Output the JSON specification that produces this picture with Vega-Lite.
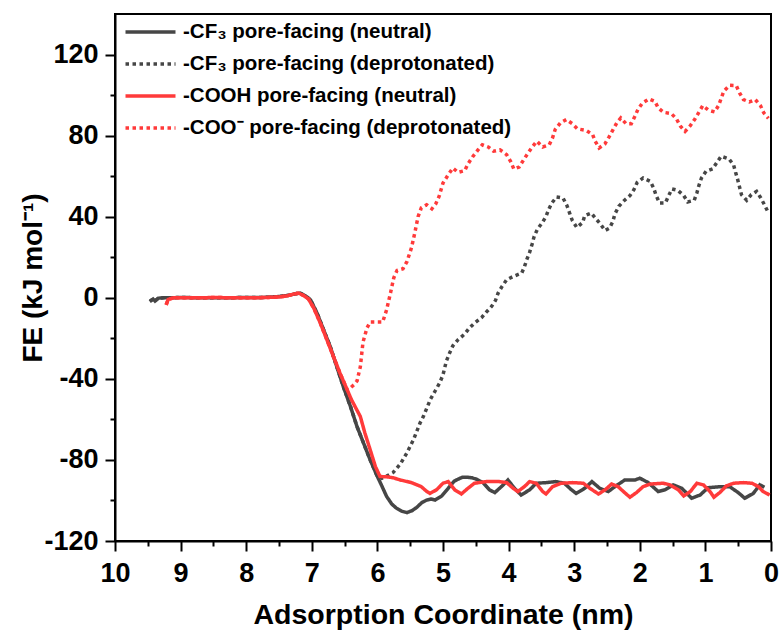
{
"$schema":"https://vega.github.io/schema/vega-lite/v6.json",
"width":656,"height":527,
"autosize":{"type":"none"},
"padding":{"left":115,"top":14,"right":9,"bottom":91},
"background":"white",
"config":{"view":{"stroke":"black","strokeWidth":2},"font":"Liberation Sans"},
"data":{"values":[
{"s":"A","x":9.47,"y":-1.8},{"s":"A","x":9.42,"y":-0.6},{"s":"A","x":9.39,"y":-1.6},{"s":"A","x":9.34,"y":-0.2},{"s":"A","x":9.25,"y":0},{"s":"A","x":9.0,"y":0.1},{"s":"A","x":8.5,"y":0},{"s":"A","x":8.0,"y":0.1},{"s":"A","x":7.7,"y":0.2},{"s":"A","x":7.5,"y":0.6},{"s":"A","x":7.35,"y":1.2},{"s":"A","x":7.25,"y":2.0},{"s":"A","x":7.18,"y":2.3},{"s":"A","x":7.1,"y":1.0},{"s":"A","x":7.02,"y":-1},{"s":"A","x":6.92,"y":-7.6},{"s":"A","x":6.82,"y":-15.8},{"s":"A","x":6.72,"y":-24},{"s":"A","x":6.62,"y":-33.9},{"s":"A","x":6.52,"y":-43.8},{"s":"A","x":6.41,"y":-53.7},{"s":"A","x":6.31,"y":-63.6},{"s":"A","x":6.21,"y":-71.8},{"s":"A","x":6.11,"y":-80},{"s":"A","x":6.01,"y":-87.5},{"s":"A","x":5.93,"y":-93},{"s":"A","x":5.86,"y":-98},{"s":"A","x":5.78,"y":-101.8},{"s":"A","x":5.71,"y":-103.8},{"s":"A","x":5.63,"y":-105.3},{"s":"A","x":5.55,"y":-106},{"s":"A","x":5.47,"y":-105},{"s":"A","x":5.40,"y":-103.4},{"s":"A","x":5.32,"y":-101},{"s":"A","x":5.25,"y":-99.8},{"s":"A","x":5.18,"y":-99.3},{"s":"A","x":5.12,"y":-99.8},{"s":"A","x":5.02,"y":-97.8},{"s":"A","x":4.96,"y":-95.5},{"s":"A","x":4.90,"y":-93.2},{"s":"A","x":4.83,"y":-90.5},{"s":"A","x":4.77,"y":-89.5},{"s":"A","x":4.70,"y":-88.5},{"s":"A","x":4.64,"y":-88.5},{"s":"A","x":4.56,"y":-88.8},{"s":"A","x":4.49,"y":-89.5},{"s":"A","x":4.39,"y":-91.2},{"s":"A","x":4.29,"y":-94.8},{"s":"A","x":4.21,"y":-96.1},{"s":"A","x":4.11,"y":-93.2},{"s":"A","x":4.01,"y":-89.9},{"s":"A","x":3.91,"y":-94},{"s":"A","x":3.81,"y":-97.3},{"s":"A","x":3.68,"y":-94.8},{"s":"A","x":3.58,"y":-91.5},{"s":"A","x":3.43,"y":-91.2},{"s":"A","x":3.28,"y":-90.7},{"s":"A","x":3.15,"y":-91.5},{"s":"A","x":3.05,"y":-94.5},{"s":"A","x":2.97,"y":-96.5},{"s":"A","x":2.84,"y":-94},{"s":"A","x":2.73,"y":-90.7},{"s":"A","x":2.61,"y":-94},{"s":"A","x":2.48,"y":-95.6},{"s":"A","x":2.38,"y":-93.2},{"s":"A","x":2.23,"y":-89.9},{"s":"A","x":2.07,"y":-89.9},{"s":"A","x":2.0,"y":-89},{"s":"A","x":1.87,"y":-91.2},{"s":"A","x":1.72,"y":-95.6},{"s":"A","x":1.62,"y":-94.8},{"s":"A","x":1.49,"y":-92.3},{"s":"A","x":1.36,"y":-94},{"s":"A","x":1.21,"y":-98.9},{"s":"A","x":1.08,"y":-97.3},{"s":"A","x":0.96,"y":-93.7},{"s":"A","x":0.78,"y":-93.2},{"s":"A","x":0.63,"y":-93.2},{"s":"A","x":0.50,"y":-96.1},{"s":"A","x":0.40,"y":-98.9},{"s":"A","x":0.27,"y":-96.5},{"s":"A","x":0.17,"y":-92.3},{"s":"A","x":0.1,"y":-93.5},
{"s":"B","x":9.47,"y":-1.8},{"s":"B","x":9.42,"y":-0.6},{"s":"B","x":9.39,"y":-1.6},{"s":"B","x":9.34,"y":-0.2},{"s":"B","x":9.25,"y":0},{"s":"B","x":9.0,"y":0.1},{"s":"B","x":8.5,"y":0},{"s":"B","x":8.0,"y":0.1},{"s":"B","x":7.7,"y":0.2},{"s":"B","x":7.5,"y":0.6},{"s":"B","x":7.35,"y":1.2},{"s":"B","x":7.25,"y":2.0},{"s":"B","x":7.18,"y":2.3},{"s":"B","x":7.1,"y":1.0},{"s":"B","x":7.02,"y":-1},{"s":"B","x":6.92,"y":-7.6},{"s":"B","x":6.82,"y":-15.8},{"s":"B","x":6.72,"y":-24},{"s":"B","x":6.62,"y":-33.9},{"s":"B","x":6.52,"y":-43.8},{"s":"B","x":6.41,"y":-53.7},{"s":"B","x":6.31,"y":-63.6},{"s":"B","x":6.21,"y":-71.8},{"s":"B","x":6.11,"y":-80},{"s":"B","x":6.01,"y":-87.5},{"s":"B","x":5.93,"y":-89},{"s":"B","x":5.86,"y":-88},{"s":"B","x":5.76,"y":-86.2},{"s":"B","x":5.65,"y":-82},{"s":"B","x":5.55,"y":-76.5},{"s":"B","x":5.45,"y":-70},{"s":"B","x":5.35,"y":-61.8},{"s":"B","x":5.30,"y":-58.6},{"s":"B","x":5.19,"y":-50},{"s":"B","x":5.12,"y":-46},{"s":"B","x":5.05,"y":-42},{"s":"B","x":5.0,"y":-38},{"s":"B","x":4.95,"y":-31.4},{"s":"B","x":4.90,"y":-27.3},{"s":"B","x":4.85,"y":-23.7},{"s":"B","x":4.77,"y":-20.7},{"s":"B","x":4.67,"y":-17.9},{"s":"B","x":4.60,"y":-15},{"s":"B","x":4.52,"y":-12.5},{"s":"B","x":4.41,"y":-9.7},{"s":"B","x":4.34,"y":-7.1},{"s":"B","x":4.26,"y":-4.3},{"s":"B","x":4.20,"y":-1.3},{"s":"B","x":4.16,"y":2.3},{"s":"B","x":4.10,"y":5.6},{"s":"B","x":4.03,"y":8.9},{"s":"B","x":3.93,"y":10.5},{"s":"B","x":3.80,"y":12.2},{"s":"B","x":3.76,"y":15.2},{"s":"B","x":3.72,"y":19.1},{"s":"B","x":3.68,"y":22.4},{"s":"B","x":3.64,"y":26.7},{"s":"B","x":3.61,"y":30.3},{"s":"B","x":3.56,"y":33.9},{"s":"B","x":3.49,"y":36.9},{"s":"B","x":3.43,"y":40.1},{"s":"B","x":3.39,"y":43.5},{"s":"B","x":3.34,"y":46.8},{"s":"B","x":3.27,"y":49.7},{"s":"B","x":3.17,"y":49.2},{"s":"B","x":3.11,"y":45.4},{"s":"B","x":3.07,"y":41.8},{"s":"B","x":3.03,"y":38.2},{"s":"B","x":2.96,"y":34.7},{"s":"B","x":2.87,"y":37.2},{"s":"B","x":2.84,"y":40.5},{"s":"B","x":2.74,"y":41.8},{"s":"B","x":2.67,"y":39},{"s":"B","x":2.60,"y":36.4},{"s":"B","x":2.53,"y":33.2},{"s":"B","x":2.46,"y":34.4},{"s":"B","x":2.41,"y":37.7},{"s":"B","x":2.38,"y":41.3},{"s":"B","x":2.32,"y":45.1},{"s":"B","x":2.24,"y":47.9},{"s":"B","x":2.15,"y":50.4},{"s":"B","x":2.09,"y":53.3},{"s":"B","x":2.04,"y":56.9},{"s":"B","x":1.95,"y":59.1},{"s":"B","x":1.84,"y":57.4},{"s":"B","x":1.79,"y":54.2},{"s":"B","x":1.75,"y":50.4},{"s":"B","x":1.70,"y":46.8},{"s":"B","x":1.61,"y":46.8},{"s":"B","x":1.56,"y":50.4},{"s":"B","x":1.51,"y":53.7},{"s":"B","x":1.42,"y":53},{"s":"B","x":1.33,"y":50.4},{"s":"B","x":1.27,"y":47.3},{"s":"B","x":1.17,"y":48.1},{"s":"B","x":1.13,"y":51.7},{"s":"B","x":1.10,"y":55.3},{"s":"B","x":1.06,"y":59.1},{"s":"B","x":0.99,"y":62.4},{"s":"B","x":0.89,"y":63.6},{"s":"B","x":0.83,"y":66.5},{"s":"B","x":0.76,"y":69.8},{"s":"B","x":0.64,"y":68.5},{"s":"B","x":0.57,"y":65.5},{"s":"B","x":0.54,"y":61.9},{"s":"B","x":0.51,"y":58.6},{"s":"B","x":0.48,"y":54.7},{"s":"B","x":0.45,"y":50.9},{"s":"B","x":0.37,"y":48.1},{"s":"B","x":0.30,"y":50.9},{"s":"B","x":0.22,"y":52.5},{"s":"B","x":0.16,"y":49.5},{"s":"B","x":0.10,"y":45.9},{"s":"B","x":0.05,"y":42.6},
{"s":"C","x":9.22,"y":-3.5},{"s":"C","x":9.19,"y":-0.8},{"s":"C","x":9.1,"y":0},{"s":"C","x":8.8,"y":0},{"s":"C","x":8.5,"y":0.1},{"s":"C","x":8.0,"y":0},{"s":"C","x":7.7,"y":0.1},{"s":"C","x":7.5,"y":0.4},{"s":"C","x":7.38,"y":0.9},{"s":"C","x":7.28,"y":1.8},{"s":"C","x":7.20,"y":2.3},{"s":"C","x":7.12,"y":1.0},{"s":"C","x":7.05,"y":-0.6},{"s":"C","x":6.97,"y":-5.1},{"s":"C","x":6.87,"y":-12.5},{"s":"C","x":6.77,"y":-20.7},{"s":"C","x":6.67,"y":-29},{"s":"C","x":6.57,"y":-37.2},{"s":"C","x":6.46,"y":-45.4},{"s":"C","x":6.40,"y":-50},{"s":"C","x":6.34,"y":-53.7},{"s":"C","x":6.26,"y":-58.6},{"s":"C","x":6.19,"y":-66.8},{"s":"C","x":6.11,"y":-75},{"s":"C","x":6.03,"y":-83.3},{"s":"C","x":5.96,"y":-88.2},{"s":"C","x":5.86,"y":-88.3},{"s":"C","x":5.76,"y":-88.8},{"s":"C","x":5.65,"y":-89.9},{"s":"C","x":5.48,"y":-91.2},{"s":"C","x":5.33,"y":-93.2},{"s":"C","x":5.25,"y":-95.5},{"s":"C","x":5.20,"y":-96.5},{"s":"C","x":5.10,"y":-94.8},{"s":"C","x":5.0,"y":-91.5},{"s":"C","x":4.92,"y":-90.7},{"s":"C","x":4.82,"y":-94.8},{"s":"C","x":4.72,"y":-96.8},{"s":"C","x":4.62,"y":-94},{"s":"C","x":4.52,"y":-91.5},{"s":"C","x":4.34,"y":-90.7},{"s":"C","x":4.14,"y":-90.7},{"s":"C","x":4.03,"y":-91.2},{"s":"C","x":3.93,"y":-94},{"s":"C","x":3.86,"y":-95.6},{"s":"C","x":3.76,"y":-93.2},{"s":"C","x":3.68,"y":-90.7},{"s":"C","x":3.58,"y":-91.5},{"s":"C","x":3.48,"y":-95.6},{"s":"C","x":3.43,"y":-96.8},{"s":"C","x":3.33,"y":-93.2},{"s":"C","x":3.20,"y":-91.5},{"s":"C","x":3.02,"y":-91.2},{"s":"C","x":2.86,"y":-91.5},{"s":"C","x":2.76,"y":-94},{"s":"C","x":2.63,"y":-96.8},{"s":"C","x":2.53,"y":-94.8},{"s":"C","x":2.43,"y":-91.9},{"s":"C","x":2.33,"y":-93.2},{"s":"C","x":2.25,"y":-95.6},{"s":"C","x":2.15,"y":-98.4},{"s":"C","x":2.05,"y":-96.1},{"s":"C","x":1.95,"y":-93.2},{"s":"C","x":1.84,"y":-91.9},{"s":"C","x":1.64,"y":-91.5},{"s":"C","x":1.54,"y":-92.3},{"s":"C","x":1.41,"y":-94.8},{"s":"C","x":1.33,"y":-97.8},{"s":"C","x":1.23,"y":-95.6},{"s":"C","x":1.13,"y":-91.5},{"s":"C","x":1.03,"y":-92.3},{"s":"C","x":0.93,"y":-95.6},{"s":"C","x":0.87,"y":-98.4},{"s":"C","x":0.78,"y":-96.1},{"s":"C","x":0.68,"y":-92.8},{"s":"C","x":0.57,"y":-91.5},{"s":"C","x":0.42,"y":-91.2},{"s":"C","x":0.29,"y":-91.5},{"s":"C","x":0.19,"y":-93.2},{"s":"C","x":0.12,"y":-95.6},{"s":"C","x":0.02,"y":-97.3},
{"s":"D","x":9.22,"y":-3.5},{"s":"D","x":9.19,"y":-0.8},{"s":"D","x":9.1,"y":0},{"s":"D","x":8.8,"y":0},{"s":"D","x":8.5,"y":0.1},{"s":"D","x":8.0,"y":0},{"s":"D","x":7.7,"y":0.1},{"s":"D","x":7.5,"y":0.4},{"s":"D","x":7.38,"y":0.9},{"s":"D","x":7.28,"y":1.8},{"s":"D","x":7.20,"y":2.3},{"s":"D","x":7.12,"y":1.0},{"s":"D","x":7.05,"y":-0.6},{"s":"D","x":6.97,"y":-5.1},{"s":"D","x":6.87,"y":-12.5},{"s":"D","x":6.77,"y":-20.7},{"s":"D","x":6.67,"y":-29},{"s":"D","x":6.57,"y":-37.2},{"s":"D","x":6.46,"y":-45.4},{"s":"D","x":6.41,"y":-44.4},{"s":"D","x":6.36,"y":-43},{"s":"D","x":6.31,"y":-41},{"s":"D","x":6.26,"y":-34},{"s":"D","x":6.22,"y":-22},{"s":"D","x":6.16,"y":-15},{"s":"D","x":6.11,"y":-12},{"s":"D","x":6.01,"y":-12},{"s":"D","x":5.92,"y":-12},{"s":"D","x":5.86,"y":-6},{"s":"D","x":5.80,"y":2.4},{"s":"D","x":5.75,"y":9.9},{"s":"D","x":5.70,"y":13.5},{"s":"D","x":5.61,"y":14.3},{"s":"D","x":5.55,"y":17.8},{"s":"D","x":5.48,"y":24.7},{"s":"D","x":5.43,"y":32},{"s":"D","x":5.38,"y":40},{"s":"D","x":5.33,"y":44.4},{"s":"D","x":5.25,"y":45.9},{"s":"D","x":5.17,"y":43.9},{"s":"D","x":5.11,"y":46.4},{"s":"D","x":5.06,"y":50},{"s":"D","x":5.0,"y":56.6},{"s":"D","x":4.92,"y":60.7},{"s":"D","x":4.85,"y":64},{"s":"D","x":4.77,"y":61.9},{"s":"D","x":4.67,"y":62.7},{"s":"D","x":4.62,"y":66},{"s":"D","x":4.55,"y":69.5},{"s":"D","x":4.47,"y":72.8},{"s":"D","x":4.40,"y":75.5},{"s":"D","x":4.31,"y":74.4},{"s":"D","x":4.23,"y":72.3},{"s":"D","x":4.13,"y":73},{"s":"D","x":4.03,"y":70.6},{"s":"D","x":3.97,"y":67.3},{"s":"D","x":3.92,"y":63.5},{"s":"D","x":3.84,"y":64.5},{"s":"D","x":3.77,"y":68.1},{"s":"D","x":3.71,"y":71.1},{"s":"D","x":3.64,"y":74.4},{"s":"D","x":3.57,"y":77.2},{"s":"D","x":3.48,"y":74.4},{"s":"D","x":3.38,"y":75.5},{"s":"D","x":3.33,"y":78.9},{"s":"D","x":3.29,"y":83},{"s":"D","x":3.21,"y":86.3},{"s":"D","x":3.12,"y":87.9},{"s":"D","x":3.03,"y":85.9},{"s":"D","x":2.95,"y":83.3},{"s":"D","x":2.82,"y":82.6},{"s":"D","x":2.72,"y":80.5},{"s":"D","x":2.68,"y":77.2},{"s":"D","x":2.62,"y":73.9},{"s":"D","x":2.53,"y":76},{"s":"D","x":2.47,"y":79.3},{"s":"D","x":2.41,"y":82.8},{"s":"D","x":2.35,"y":86.3},{"s":"D","x":2.29,"y":88.7},{"s":"D","x":2.21,"y":85.9},{"s":"D","x":2.13,"y":85.9},{"s":"D","x":2.08,"y":89.2},{"s":"D","x":2.03,"y":92.8},{"s":"D","x":1.96,"y":96.1},{"s":"D","x":1.86,"y":98.1},{"s":"D","x":1.77,"y":96.9},{"s":"D","x":1.72,"y":93.7},{"s":"D","x":1.64,"y":91.5},{"s":"D","x":1.52,"y":90.9},{"s":"D","x":1.44,"y":88.2},{"s":"D","x":1.38,"y":84.6},{"s":"D","x":1.31,"y":82.1},{"s":"D","x":1.23,"y":84.9},{"s":"D","x":1.16,"y":88.2},{"s":"D","x":1.10,"y":91.5},{"s":"D","x":1.04,"y":94.8},{"s":"D","x":0.95,"y":92.5},{"s":"D","x":0.86,"y":91.7},{"s":"D","x":0.80,"y":94.8},{"s":"D","x":0.76,"y":98.3},{"s":"D","x":0.72,"y":101.9},{"s":"D","x":0.63,"y":104.8},{"s":"D","x":0.53,"y":104.7},{"s":"D","x":0.48,"y":101.1},{"s":"D","x":0.42,"y":97.8},{"s":"D","x":0.33,"y":96.6},{"s":"D","x":0.24,"y":97.8},{"s":"D","x":0.16,"y":94.8},{"s":"D","x":0.11,"y":91.2},{"s":"D","x":0.04,"y":88.5}
]},
"mark":{"type":"line","strokeWidth":3.5,"clip":true},
"encoding":{
"x":{"field":"x","type":"quantitative","sort":null,
 "scale":{"domain":[0,10],"reverse":true,"nice":false,"zero":false},
 "axis":{"values":[0,0.5,1,1.5,2,2.5,3,3.5,4,4.5,5,5.5,6,6.5,7,7.5,8,8.5,9,9.5,10],
  "labelExpr":"datum.value % 1 === 0 ? '' + datum.value : ''",
  "tickSize":{"condition":{"test":"datum.value % 1 === 0","value":10},"value":5},
  "title":"Adsorption Coordinate (nm)","grid":false,
  "domainColor":"black","domainWidth":2,"tickColor":"black","tickWidth":2,
  "labelFont":"Liberation Sans","labelFontWeight":"bold","labelFontSize":27,"labelColor":"black","labelPadding":9,
  "labelFlush":false,"labelOverlap":false,
  "titleFont":"Liberation Sans","titleFontSize":28.5,"titleFontWeight":"bold","titleColor":"black","titlePadding":14}},
"y":{"field":"y","type":"quantitative",
 "scale":{"domain":[-120,140],"nice":false,"zero":false},
 "axis":{"values":[-120,-100,-80,-60,-40,-20,0,20,40,60,80,100,120],
  "labelExpr":"datum.value % 40 === 0 ? '' + datum.value : ''",
  "tickSize":{"condition":{"test":"datum.value % 40 === 0","value":10},"value":5},
  "title":"FE (kJ mol⁻¹)","grid":false,
  "domainColor":"black","domainWidth":2,"tickColor":"black","tickWidth":2,
  "labelFont":"Liberation Sans","labelFontWeight":"bold","labelFontSize":27,"labelColor":"black","labelPadding":7,
  "labelFlush":false,"labelOverlap":false,
  "titleFont":"Liberation Sans","titleFontSize":28,"titleFontWeight":"bold","titleColor":"black","titlePadding":-4}},
"color":{"field":"s","type":"nominal",
 "scale":{"domain":["A","B","C","D"],"range":["#464646","#464646","#ff3a3a","#ff3a3a"]},
 "legend":{"orient":"none","legendX":23.5,"legendY":6,"title":null,"padding":0,
  "symbolType":"M-2.5,0H2.5","symbolSize":400,"symbolStrokeWidth":3.5,"labelLimit":500,
  "labelFont":"Liberation Sans","labelFontSize":20.5,"labelFontWeight":"bold","labelColor":"black","labelOffset":20.5,"rowPadding":9,
  "labelExpr":"datum.label === 'A' ? '-CF₃ pore-facing (neutral)' : datum.label === 'B' ? '-CF₃ pore-facing (deprotonated)' : datum.label === 'C' ? '-COOH pore-facing (neutral)' : '-COO⁻ pore-facing (deprotonated)'"}},
"strokeDash":{"field":"s","type":"nominal",
 "scale":{"domain":["A","B","C","D"],"range":[[1,0],[3.5,3.5],[1,0],[3.5,3.5]]},
 "legend":{"orient":"none","legendX":23.5,"legendY":6,"title":null,"padding":0,
  "symbolType":"M-2.5,0H2.5","symbolSize":400,"symbolStrokeWidth":3.5,"labelLimit":500,
  "labelFont":"Liberation Sans","labelFontSize":20.5,"labelFontWeight":"bold","labelColor":"black","labelOffset":20.5,"rowPadding":9,
  "labelExpr":"datum.label === 'A' ? '-CF₃ pore-facing (neutral)' : datum.label === 'B' ? '-CF₃ pore-facing (deprotonated)' : datum.label === 'C' ? '-COOH pore-facing (neutral)' : '-COO⁻ pore-facing (deprotonated)'"}}
}
}
